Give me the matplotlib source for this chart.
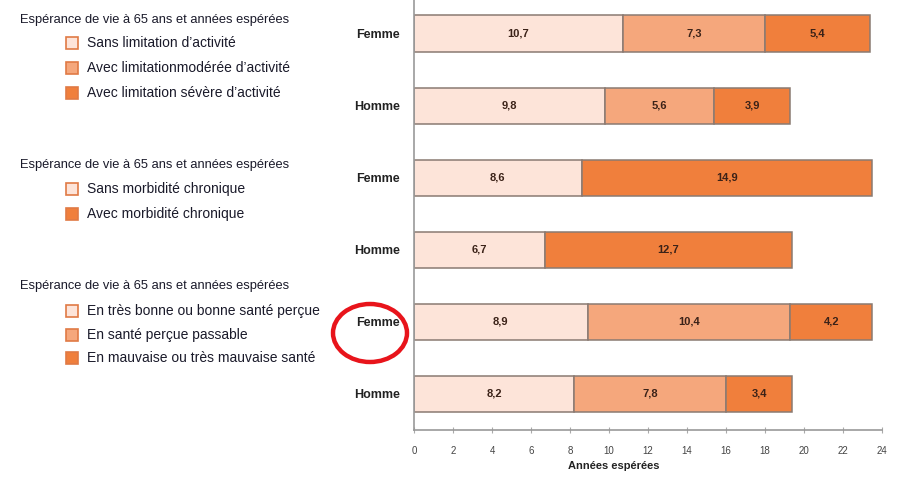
import matplotlib

matplotlib.use("Agg")
import matplotlib.pyplot as plt
from matplotlib.patches import Ellipse, Rectangle

# --------------------------------------------------------------------------- #
# Data
# --------------------------------------------------------------------------- #
rows = ["Femme", "Homme", "Femme", "Homme", "Femme", "Homme"]

# one list of segments per row (years), top to bottom
activite_f = [10.7, 7.3, 5.4]
activite_h = [9.8, 5.6, 3.9]
morbidite_f = [8.6, 14.9]
morbidite_h = [6.7, 12.7]
sante_f = [8.9, 10.4, 4.2]
sante_h = [8.2, 7.8, 3.4]

group_title = "Espérance de vie à 65 ans et années espérées"
labels_activite = [
    "Sans limitation d\u2019activité",
    "Avec limitationmodérée d\u2019activité",
    "Avec limitation sévère d\u2019activité",
]
labels_morbidite = ["Sans morbidité chronique", "Avec morbidité chronique"]
labels_sante = [
    "En très bonne ou bonne santé perçue",
    "En santé perçue passable",
    "En mauvaise ou très mauvaise santé",
]

xticks = list(range(0, 25, 2))

# colours
LIGHT, MID, DARK = "#FDE4D9", "#F5A77C", "#F07F3C"
EDGE = "#8A7A72"
col3 = [LIGHT, MID, DARK]
col2 = [LIGHT, DARK]

FONT = ["Liberation Sans", "DejaVu Sans"]
plt.rcParams["font.family"] = FONT

fig = plt.figure(figsize=(8.97, 4.78), dpi=100)
ax = fig.add_axes([414 / 897, 48 / 478, 468 / 897, 430 / 478])

series = [
    (activite_f, col3), (activite_h, col3),
    (morbidite_f, col2), (morbidite_h, col2),
    (sante_f, col3), (sante_h, col3),
]
for i, (vals, cols) in enumerate(series):
    left = 0.0
    for v, c in zip(vals, cols):
        ax.barh(i, v, left=left, height=0.51, color=c, edgecolor=EDGE, linewidth=1.1)
        ax.text(left + v / 2, i, f"{v:.1f}".replace(".", ","), ha="center",
                va="center", fontsize=8, fontweight="bold", color="#3B2218")
        left += v

ax.set_xlim(0, 24)
ax.set_ylim(5.5, -0.47)
ax.set_yticks(range(len(rows)))
ax.set_yticklabels(rows, fontsize=9, fontweight="bold", color="#222222")
ax.tick_params(axis="y", length=0, pad=10)
ax.set_xticks(xticks)
ax.set_xticklabels([str(t) for t in xticks], fontsize=7, color="#444444")
ax.tick_params(axis="x", direction="inout", length=5, color="#aaaaaa", pad=9)
ax.set_xlabel("Années espérées", fontsize=8, fontweight="bold", color="#222222",
              labelpad=4)
ax.xaxis.set_label_coords((614 - 414) / 468, -0.072)
for s in ("top", "right"):
    ax.spines[s].set_visible(False)
for s in ("left", "bottom"):
    ax.spines[s].set_color("#999999")
    ax.spines[s].set_linewidth(1.2)

# --------------------------------------------------------------------------- #
# Left-hand legends (figure pixel coords converted to fractions)
# --------------------------------------------------------------------------- #
W, H = 897, 478


def legend_block(y_title, y_items, labels, colors):
    fig.text(20 / W, 1 - y_title / H, group_title, fontsize=9.3,
             va="center", ha="left", color="#1a1a2a")
    for y, lab, c in zip(y_items, labels, colors):
        fig.patches.append(Rectangle((66 / W, 1 - (y + 6) / H), 12 / W, 12 / H,
                                     transform=fig.transFigure, facecolor=c,
                                     edgecolor="#E07A45", linewidth=1.2))
        fig.text(87 / W, 1 - y / H, lab, fontsize=10, va="center", ha="left",
                 color="#1a1a2a")


legend_block(20, [43, 68, 93], labels_activite, col3)
legend_block(165, [189, 214], labels_morbidite, col2)
legend_block(286, [311, 335, 358], labels_sante, col3)

# red highlight circle around the third row label
fig.patches.append(Ellipse((370 / W, 1 - 333 / H), 74 / W, 58 / H,
                           transform=fig.transFigure, fill=False,
                           edgecolor="#E8141B", linewidth=3.2))

fig.savefig("out.png", dpi=100)
